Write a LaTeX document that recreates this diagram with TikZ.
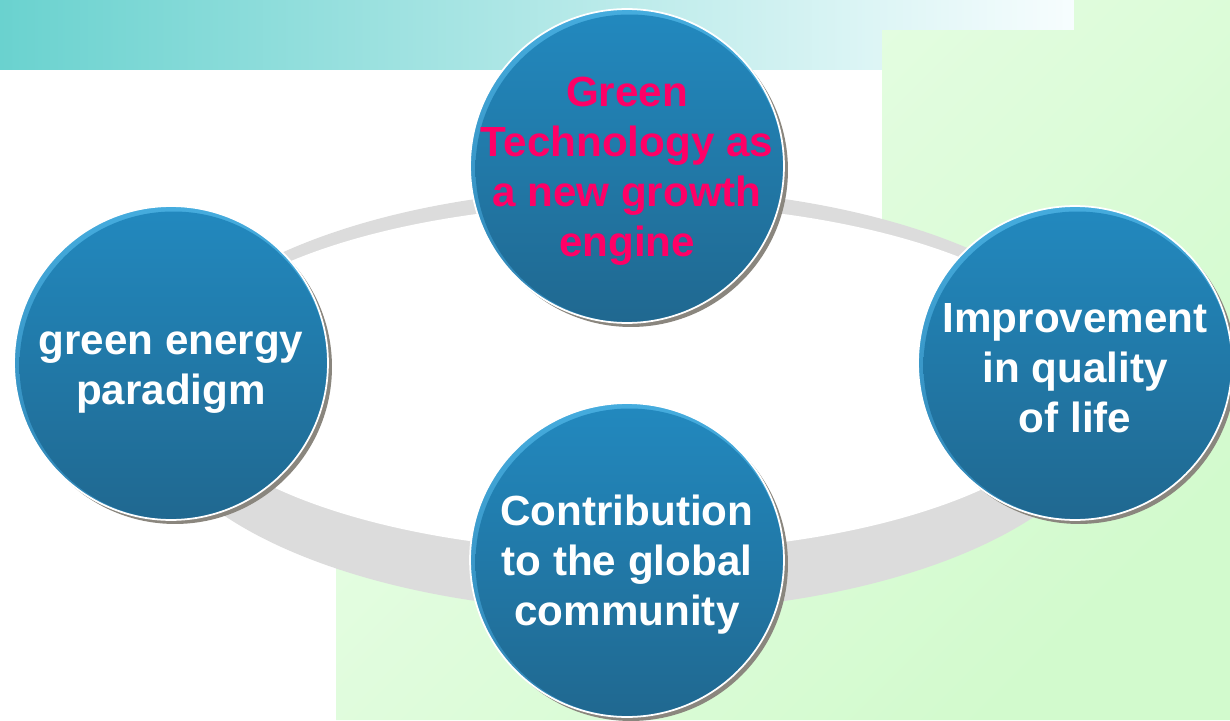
\documentclass[tikz,border=0pt]{standalone}
\usepackage{fontspec}
\setmainfont{Liberation Sans}
\usepackage{tikz}

\definecolor{banner}{HTML}{6AD2CF}
\definecolor{bannerend}{HTML}{F7FDFE}
\definecolor{mint}{HTML}{EAFEE8}
\definecolor{mintdark}{HTML}{D2FACD}
\definecolor{ringgrey}{HTML}{DCDCDC}
\definecolor{rimtop}{HTML}{45ACDE}
\definecolor{rimbot}{HTML}{2F84B4}
\definecolor{balltop}{HTML}{2289BF}
\definecolor{ballbot}{HTML}{206890}
\definecolor{ballshadow}{HTML}{8A867E}
\definecolor{hot}{HTML}{FF0066}

\begin{document}
\begin{tikzpicture}[x=0.02cm, y=-0.02cm,
    ball/.style={circle, minimum size=6.28cm, inner sep=0pt,
        top color=rimtop, bottom color=rimbot, draw=white, line width=1pt,
        preaction={fill=ballshadow, transform canvas={shift={(4,4)}}},
        path picture={\shade[top color=balltop, bottom color=ballbot]
            ([shift={(2.5,2.5)}]path picture bounding box.center) circle (154);}},
    balltext/.style={align=center, inner sep=0pt, text=white, yshift=-0.1cm,
        font=\fontsize{24}{28.5}\selectfont\bfseries}]
            \useasboundingbox (0,0) rectangle (1230,720);
            \shade[left color=banner, right color=bannerend] (0,0) rectangle (1074,69);
            \shade[top color=mint, bottom color=mintdark, shading angle=45]
                (1074,0) -- (1230,0) -- (1230,720) -- (336,720) -- (336,400)
                -- (882,400) -- (882,30) -- (1074,30) -- cycle;
            \fill[ringgrey] (630,400) ellipse [x radius=484, y radius=212];
            \fill[white] (630,378) ellipse [x radius=458, y radius=174];
            \node[ball] (tech) at (627,166) {};
            \node[ball] (energy) at (171,363) {};
            \node[ball] (life) at (1075,363) {};
            \node[ball] (global) at (627,560) {};
            \node[balltext, text=hot] (techtext) at (tech) {Green\\Technology as\\a new growth\\engine};
            \node[balltext, yshift=-0.1cm] (energytext) at (energy) {green energy\\paradigm};
            \node[balltext] (lifetext) at (life) {Improvement\\in quality\\of life};
            \node[balltext] (globaltext) at (global) {Contribution\\to the global\\community};
        \end{tikzpicture}
\end{document}
